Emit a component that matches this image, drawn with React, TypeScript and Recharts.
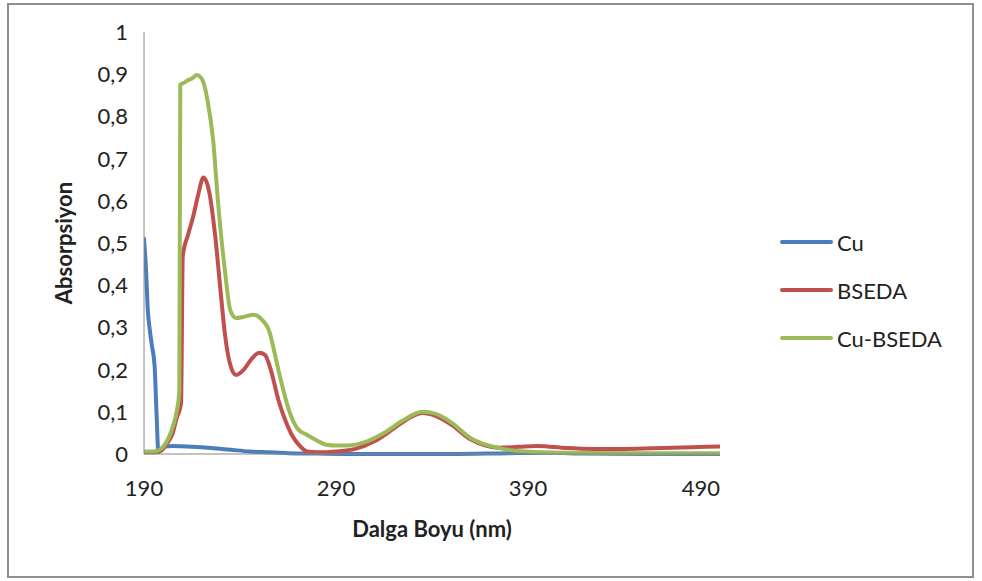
import React from 'react';
import { LineChart, Line, XAxis, YAxis, Legend } from 'recharts';

// Wavelength (nm) / absorbance samples per solution
const cuNm = [190, 191, 192, 193, 194, 195.5, 196.5, 197.5, 199, 201, 205, 215, 225, 235, 245, 255, 265, 280, 300, 350, 380, 400, 420, 450, 490];
const cuAbs = [0.51, 0.44, 0.34, 0.295, 0.26, 0.21, 0.1, 0.005, 0.012, 0.018, 0.019, 0.017, 0.014, 0.01, 0.006, 0.004, 0.002, 0.001, 0, 0, 0.002, 0.003, 0.001, 0, 0];

const bsedaNm = [190, 195, 199, 202, 205, 207, 209.3, 210.2, 213, 216, 218, 221, 224, 227, 230, 232, 235, 238, 242, 246, 250, 253, 256, 260, 264, 267, 271, 275, 280, 290, 300, 310, 320, 328, 335, 342, 350, 360, 368, 375, 385, 395, 410, 425, 440, 460, 475, 490];
const bsedaAbs = [0.004, 0.004, 0.008, 0.025, 0.05, 0.085, 0.12, 0.47, 0.52, 0.57, 0.61, 0.655, 0.62, 0.52, 0.38, 0.29, 0.21, 0.187, 0.2, 0.225, 0.24, 0.235, 0.2, 0.128, 0.075, 0.045, 0.02, 0.006, 0.004, 0.006, 0.012, 0.03, 0.06, 0.085, 0.097, 0.09, 0.07, 0.035, 0.02, 0.015, 0.017, 0.019, 0.014, 0.012, 0.012, 0.014, 0.016, 0.018];

const cuBsedaNm = [190, 195, 198, 200, 203, 205, 207, 208.4, 208.9, 211, 213, 215, 217.5, 219, 221, 223, 226, 228.5, 232, 235, 238, 242, 247, 251, 255.5, 258, 261, 266, 270, 275, 280, 285, 290, 296, 305, 315, 325, 335, 342, 350, 360, 368, 375, 383, 393, 410, 440, 490];
const cuBsedaAbs = [0.006, 0.006, 0.01, 0.017, 0.04, 0.065, 0.1, 0.15, 0.875, 0.88, 0.886, 0.89, 0.898, 0.895, 0.88, 0.84, 0.744, 0.6, 0.44, 0.34, 0.322, 0.325, 0.33, 0.32, 0.287, 0.24, 0.18, 0.097, 0.06, 0.045, 0.032, 0.022, 0.02, 0.02, 0.028, 0.05, 0.08, 0.1, 0.095, 0.075, 0.038, 0.022, 0.014, 0.008, 0.005, 0.003, 0.002, 0.002];

const xTicks = [190, 290, 390, 490];
const yTicks = [0, 0.1, 0.2, 0.3, 0.4, 0.5, 0.6, 0.7, 0.8, 0.9, 1];
const yTickLabels = ['0', '0,1', '0,2', '0,3', '0,4', '0,5', '0,6', '0,7', '0,8', '0,9', '1'];

const toPoints = (nm: number[], abs: number[]) => nm.map((w, i) => ({ nm: w, abs: abs[i] }));

const series = [
  { name: 'Cu', color: '#4A7EBB', data: toPoints(cuNm, cuAbs) },
  { name: 'BSEDA', color: '#C0504D', data: toPoints(bsedaNm, bsedaAbs) },
  { name: 'Cu-BSEDA', color: '#9BBB59', data: toPoints(cuBsedaNm, cuBsedaAbs) },
];

const FONT = 'Lato, "Open Sans", sans-serif';
const AXIS_GRAY = '#868686';

const XTick = (props: any) => {
  const { x, y, payload } = props;
  const last = payload.value === xTicks[xTicks.length - 1];
  return (
    <text x={x} y={y + 42} textAnchor={last ? 'end' : 'middle'} fontSize={22} fontFamily={FONT} fill="#222">
      {payload.value}
    </text>
  );
};

const YTick = (props: any) => {
  const { x, y, payload } = props;
  const idx = yTicks.indexOf(payload.value);
  return (
    <text x={x - 16} y={y + 8} textAnchor="end" fontSize={22} fontFamily={FONT} fill="#222">
      {idx >= 0 ? yTickLabels[idx] : payload.value}
    </text>
  );
};

const LegendContent = () => (
  <div style={{ fontFamily: FONT, fontSize: 22, color: '#222' }}>
    {series.map((s) => (
      <div key={s.name} style={{ display: 'flex', alignItems: 'center', height: 48 }}>
        <span style={{ width: 53, height: 4, borderRadius: 2, background: s.color, marginRight: 4 }} />
        <span>{s.name}</span>
      </div>
    ))}
  </div>
);

export default function App() {
  return (
    <div
      style={{
        position: 'absolute',
        left: 7,
        top: 3,
        width: 967,
        height: 575,
        border: '2px solid #8e8e8e',
        boxSizing: 'border-box',
        background: '#fff',
      }}
    >
      <LineChart width={963} height={571} margin={{ top: 27, right: 62, bottom: 0, left: 0 }}>
        <XAxis
          dataKey="nm"
          type="number"
          domain={[190, 490]}
          ticks={xTicks}
          allowDataOverflow
          height={122}
          stroke={AXIS_GRAY}
          tickLine={false}
          tickSize={0}
          tickMargin={0}
          tick={<XTick />}
          label={{
            value: 'Dalga Boyu (nm)',
            position: 'insideBottom',
            offset: 39,
            style: { fontFamily: FONT, fontSize: 22, fontWeight: 700, fill: '#222' },
          }}
        />
        <YAxis
          type="number"
          domain={[0, 1]}
          ticks={yTicks}
          width={135}
          stroke={AXIS_GRAY}
          tickLine={false}
          tickSize={0}
          tickMargin={0}
          tick={<YTick />}
          label={{
            value: 'Absorpsiyon',
            angle: -90,
            position: 'insideLeft',
            offset: 55,
            style: { textAnchor: 'middle', fontFamily: FONT, fontSize: 22, fontWeight: 700, fill: '#222' },
          }}
        />
        <Legend
          layout="vertical"
          align="right"
          verticalAlign="middle"
          width={190}
          content={<LegendContent />}
          wrapperStyle={{ left: 771, top: 213, right: 'auto', width: 190 }}
        />
        {series.map((s) => (
          <Line
            key={s.name}
            data={s.data}
            dataKey="abs"
            name={s.name}
            type="monotone"
            stroke={s.color}
            strokeWidth={4}
            strokeLinejoin="round"
            strokeLinecap="round"
            dot={false}
            activeDot={false}
            isAnimationActive={false}
          />
        ))}
      </LineChart>
    </div>
  );
}
